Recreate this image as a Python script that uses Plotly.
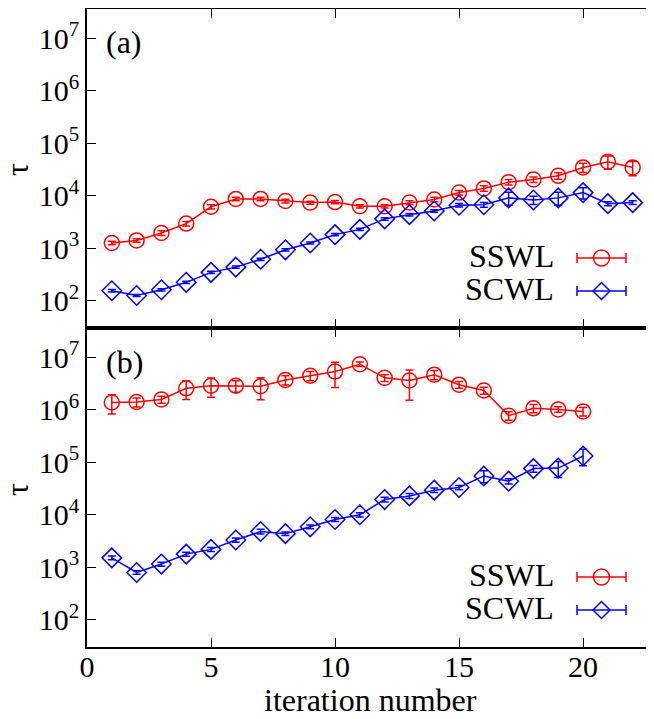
import plotly.graph_objects as go

# ---------------- data ----------------
iters_a = list(range(1, 23))
sswl_a = [1260, 1410, 1950, 2950, 6170, 8710, 8710, 7940, 7410, 7590, 6310,
          6310, 7410, 8510, 11500, 13800, 18200, 20400, 24000, 34700, 44700, 34700]
sswl_a_err = [100, 110, 200, 300, 600, 700, 700, 650, 500, 550, 450,
              450, 600, 850, 1150, 1650, 2200, 2500, 3400, 7000, 12500, 10500]
scwl_a = [155, 126, 162, 224, 347, 437, 617, 933, 1260, 1820, 2290,
          3630, 4370, 5130, 6610, 6760, 9120, 8320, 9120, 11500, 7080, 7410]
scwl_a_err = [8, 6, 8, 11, 17, 22, 30, 45, 60, 90, 120,
              200, 250, 300, 500, 700, 2500, 1500, 2500, 2800, 600, 600]

iters_b = list(range(1, 21))
sswl_b = [1.38e6, 1.41e6, 1.58e6, 2.57e6, 2.88e6, 2.88e6, 2.82e6, 3.72e6, 4.47e6, 5.37e6,
          7.41e6, 4.07e6, 3.63e6, 4.68e6, 3.02e6, 2.34e6, 7.76e5, 1.07e6, 1.02e6, 9.33e5]
sswl_b_err = [5.5e5, 2.8e5, 2.4e5, 1.0e6, 1.15e6, 7.2e5, 1.27e6, 7.4e5, 9.0e5, 2.7e6,
              7.4e5, 6.0e5, 2.1e6, 9.4e5, 4.5e5, 3.5e5, 1.4e5, 1.9e5, 1.2e5, 1.7e5]
scwl_b = [1510, 794, 1150, 1780, 2190, 3310, 4790, 4370, 5890, 8130,
          10000, 19500, 22900, 29500, 33100, 55000, 43700, 75900, 77600, 132000]
scwl_b_err = [120, 60, 100, 160, 200, 300, 500, 350, 500, 700,
              900, 2000, 2500, 3000, 3000, 14000, 5000, 11000, 26000, 46000]

ytick_vals = [1e2, 1e3, 1e4, 1e5, 1e6, 1e7]
ytick_text = ["10<sup>2</sup>", "10<sup>3</sup>", "10<sup>4</sup>",
              "10<sup>5</sup>", "10<sup>6</sup>", "10<sup>7</sup>"]
xtick_vals = [0, 5, 10, 15, 20]
series_names = ["SSWL", "SCWL"]
panel_labels = ["(a)", "(b)"]

RED = "#ff0000"
BLUE = "#0000ff"
FONT = "Liberation Serif"

# The page body has an 8px margin, so the figure is drawn 8px right/down.
OFF = 8
W, H = 654 - OFF, 719 - OFF

fig = go.Figure()


def add_series(x, y, err, color, symbol, xa, ya):
    fig.add_trace(go.Scatter(
        x=x, y=y, mode="lines+markers", xaxis=xa, yaxis=ya, showlegend=False,
        line=dict(color=color, width=1.5),
        marker=dict(symbol=symbol, size=15, color=color, line=dict(color=color, width=1.5)),
        error_y=dict(type="data", array=err, visible=True, color=color, thickness=1.5, width=4),
    ))


add_series(iters_a, sswl_a, sswl_a_err, RED, "circle-open", "x2", "y2")
add_series(iters_a, scwl_a, scwl_a_err, BLUE, "diamond-open", "x2", "y2")
add_series(iters_b, sswl_b, sswl_b_err, RED, "circle-open", "x", "y")
add_series(iters_b, scwl_b, scwl_b_err, BLUE, "diamond-open", "x", "y")

# plot area in page pixels
L, R, T, B = 87, 654, 9, 647
xrange = [0, 22.86]
yrange = [1.48, 7.56]
axis_common = dict(showgrid=False, zeroline=False, showline=True, linecolor="black",
                   linewidth=1.6, ticks="inside", ticklen=9, tickwidth=1.2, tickcolor="black",
                   automargin=False)
right_common = dict(type="log", range=yrange, tickvals=ytick_vals, side="right",
                    showticklabels=False, showgrid=False, zeroline=False, showline=False,
                    ticks="inside", ticklen=7, tickwidth=1.2, tickcolor="black", automargin=False)

fig.update_layout(
    template="none",
    width=W, height=H,
    margin=dict(l=L - OFF, r=654 - R, t=T - OFF, b=(719 - OFF) - (B - OFF), autoexpand=False),
    paper_bgcolor="white", plot_bgcolor="white",
    font=dict(family=FONT, size=30, color="black"),
    xaxis=dict(range=xrange, tickvals=xtick_vals, anchor="y", mirror="ticks",
               tickfont=dict(size=30), ticklabelstandoff=-8, **axis_common),
    xaxis2=dict(range=xrange, tickvals=xtick_vals, anchor="y2", mirror="ticks",
                showticklabels=False, matches="x", **axis_common),
    yaxis=dict(type="log", range=yrange, tickvals=ytick_vals, ticktext=ytick_text,
               domain=[0, 0.5], anchor="x", tickfont=dict(size=30), **axis_common),
    yaxis2=dict(type="log", range=yrange, tickvals=ytick_vals, ticktext=ytick_text,
                domain=[0.5, 1], anchor="x2", tickfont=dict(size=30), **axis_common),
    yaxis3=dict(overlaying="y", anchor="x", **right_common),
    yaxis4=dict(overlaying="y2", anchor="x2", **right_common),
)


def px(xp):
    return (xp - L) / (R - L)


def py(yp):
    return (B - yp) / (B - T)


annotations = []
# axis titles
annotations.append(dict(text="iteration number", x=px(370), y=py(700), xref="paper", yref="paper",
                        showarrow=False, font=dict(family=FONT, size=32), xanchor="center", yanchor="middle"))
for yc in (170, 490):
    annotations.append(dict(text="τ", x=px(17), y=py(yc), xref="paper", yref="paper", textangle=-90,
                            showarrow=False, font=dict(family=FONT, size=32), xanchor="center", yanchor="middle"))
# panel labels
for lab, yc in zip(panel_labels, (42, 362)):
    annotations.append(dict(text=lab, x=px(104), y=py(yc), xref="paper", yref="paper",
                            showarrow=False, font=dict(family=FONT, size=32), xanchor="left", yanchor="middle"))

# legend keys (text + error-bar style samples)
shapes = []
legend_rows = [(258, 291), (577, 610)]
for rows in legend_rows:
    for name, yc, color, kind in zip(series_names, rows, (RED, BLUE), ("circle", "diamond")):
        annotations.append(dict(text=name, x=px(556), y=py(yc - 2), xref="paper", yref="paper",
                                showarrow=False, font=dict(family=FONT, size=32),
                                xanchor="right", yanchor="middle"))
        ly = py(yc)
        shapes.append(dict(type="line", xref="paper", yref="paper", x0=px(577), x1=px(626), y0=ly, y1=ly,
                           line=dict(color=color, width=1.5)))
        for cx in (577, 626):
            shapes.append(dict(type="line", xref="paper", yref="paper", x0=px(cx), x1=px(cx),
                               y0=ly - 5 / (B - T), y1=ly + 5 / (B - T), line=dict(color=color, width=1.5)))
        if kind == "circle":
            shapes.append(dict(type="circle", xref="paper", yref="paper", xsizemode="pixel", ysizemode="pixel",
                               xanchor=px(601.5), yanchor=ly, x0=-8, x1=8, y0=-8, y1=8,
                               line=dict(color=color, width=1.5), fillcolor="rgba(0,0,0,0)"))
        else:
            shapes.append(dict(type="path", xref="paper", yref="paper", xsizemode="pixel", ysizemode="pixel",
                               xanchor=px(601.5), yanchor=ly, path="M -8.5 0 L 0 8.5 L 8.5 0 L 0 -8.5 Z",
                               line=dict(color=color, width=1.5), fillcolor="rgba(0,0,0,0)"))

fig.update_layout(annotations=annotations, shapes=shapes)

fig.write_html("out.html")
